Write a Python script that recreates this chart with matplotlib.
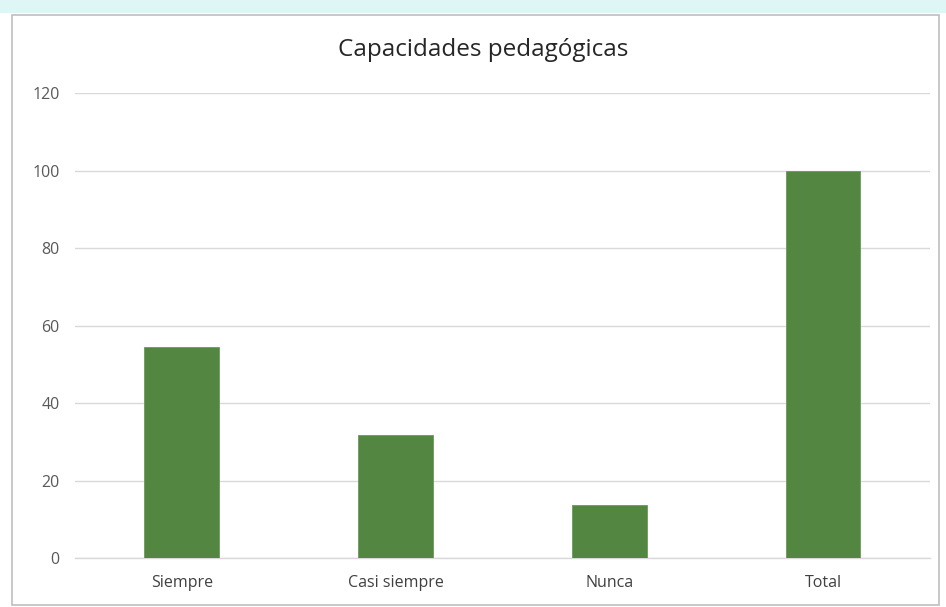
import numpy as np
import matplotlib
matplotlib.use('Agg')
import matplotlib.pyplot as plt
from matplotlib.patches import Rectangle

categorias = ['Siempre', 'Casi siempre', 'Nunca', 'Total']
valores = [54.5, 31.8, 13.6, 100]
yticks = [0, 20, 40, 60, 80, 100, 120]

plt.rcParams['font.family'] = ['Open Sans', 'DejaVu Sans']

fig = plt.figure(figsize=(9.46, 6.07), dpi=100)
fig.patch.set_facecolor('white')

# banda superior y borde del grafico (captura de Excel)
fig.patches.append(Rectangle((0, 0.978), 1, 0.022, transform=fig.transFigure,
                             facecolor='#dff6f6', edgecolor='none', zorder=-2))
fig.patches.append(Rectangle((0.013, 0.004), 0.98, 0.972, transform=fig.transFigure,
                             facecolor='white', edgecolor='#bfbfbf', lw=1.2, zorder=-1))

ax = fig.add_axes([0.0793, 0.0807, 0.9037, 0.766])
ax.set_facecolor('none')
x = np.arange(len(categorias))
ax.bar(x, valores, width=0.35, color='#538641', edgecolor='#6a9a58', linewidth=0.6, zorder=3)
ax.axhline(0, color='#d9d9d9', linewidth=1, zorder=2, clip_on=False)

ax.set_xlim(-0.5, len(categorias) - 0.5)
ax.set_ylim(0, 120)
ax.set_yticks(yticks)
ax.set_xticks(x)
ax.set_xticklabels(categorias)
ax.yaxis.grid(True, color='#d9d9d9', linewidth=1, zorder=0)
for s in ax.spines.values():
    s.set_visible(False)
ax.tick_params(axis='both', length=0, labelsize=11.5, labelcolor='#595959')
ax.tick_params(axis='x', pad=12, labelcolor='#404040')
ax.tick_params(axis='y', pad=11)

fig.text(0.511, 0.917, 'Capacidades pedagógicas', ha='center', va='center',
         fontsize=17.5, color='#262626')

fig.savefig('out.png', dpi=100)
